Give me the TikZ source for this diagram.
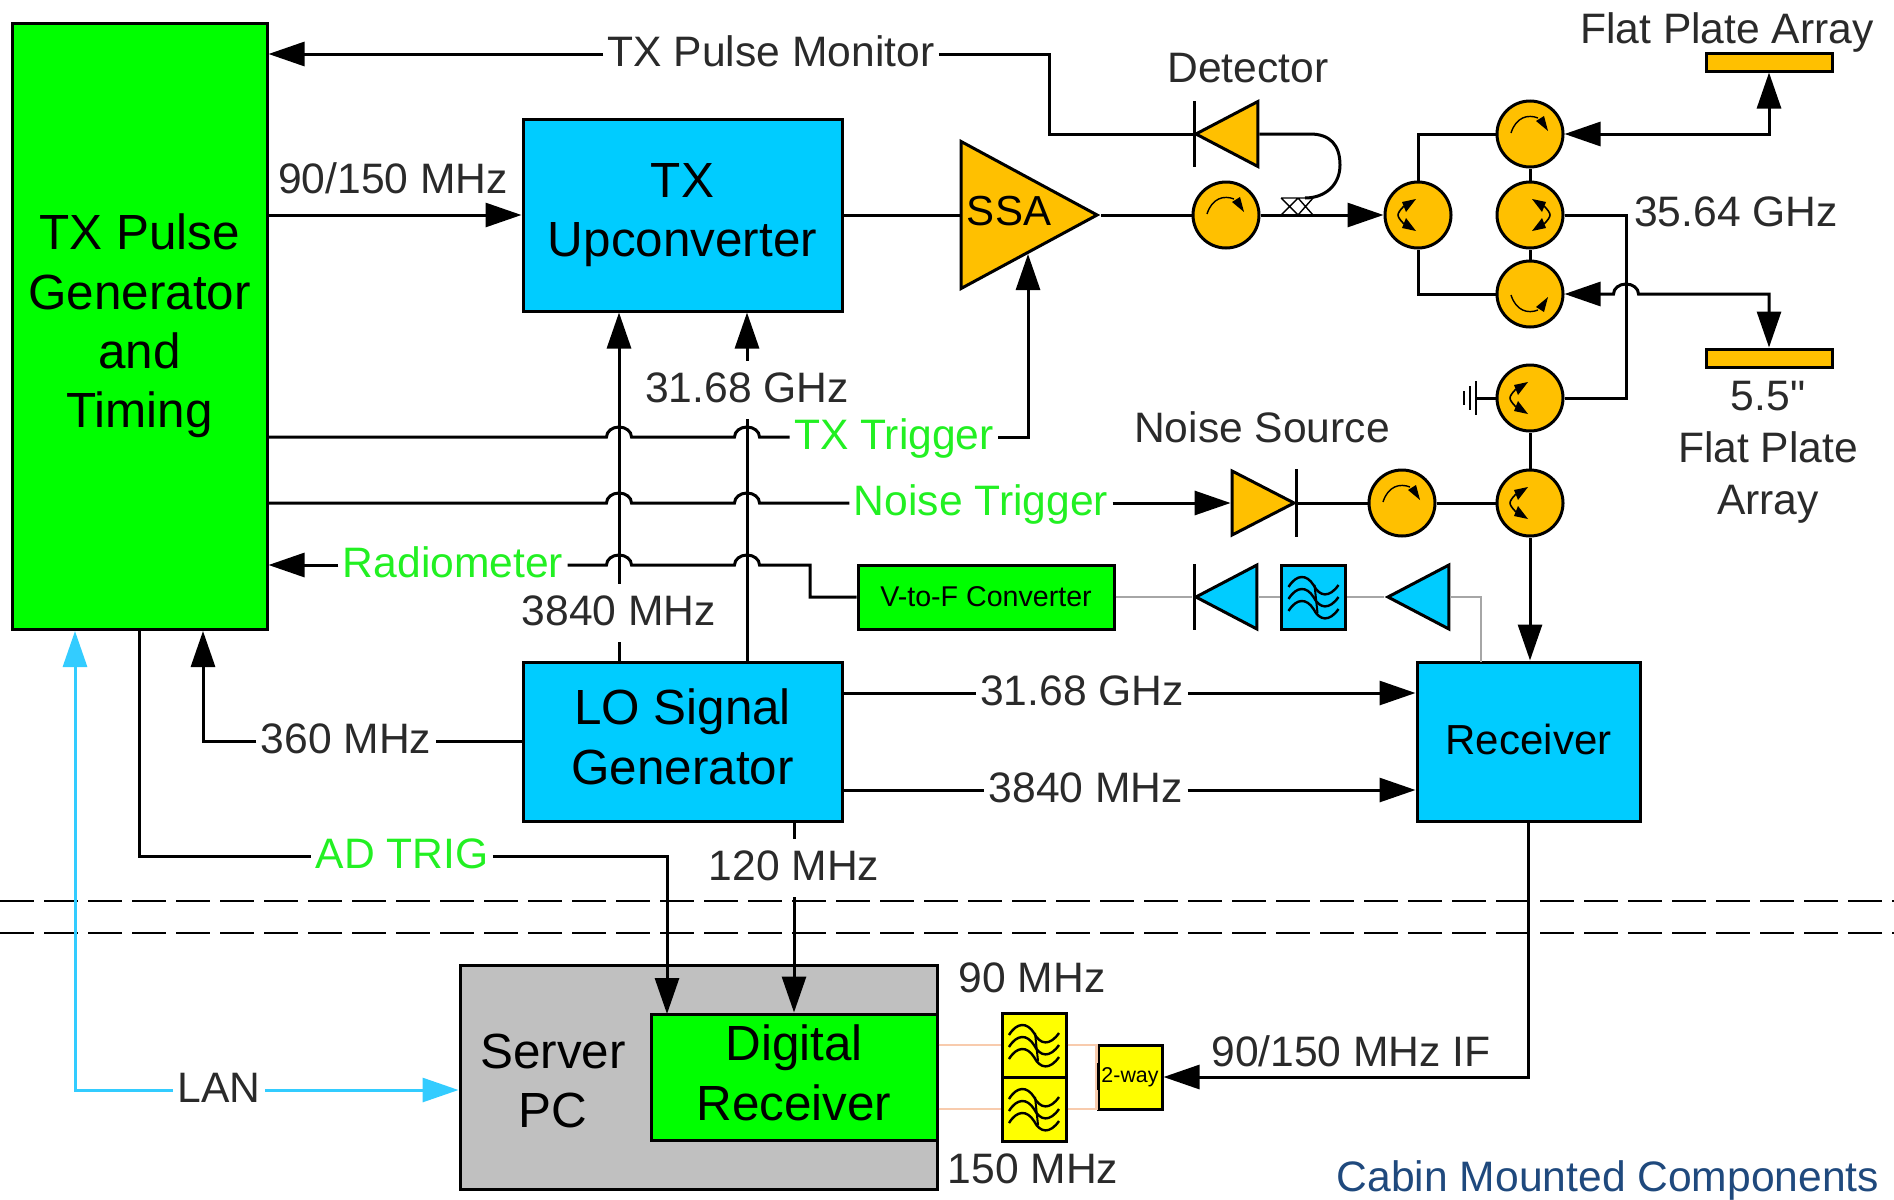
\documentclass[tikz,border=0pt]{standalone}
\usepackage{fontspec}
\setmainfont{Liberation Sans}
\newfontfamily\plainfont{Liberation Sans}
\usetikzlibrary{arrows.meta,calc,shapes.geometric}
\definecolor{boxgreen}{HTML}{00FF00}
\definecolor{boxblue}{HTML}{00CCFF}
\definecolor{amber}{HTML}{FFC000}
\definecolor{boxyellow}{HTML}{FFFF00}
\definecolor{boxgray}{HTML}{C0C0C0}
\definecolor{peach}{HTML}{F8CBAD}
\definecolor{lancyan}{HTML}{33CCFF}
\definecolor{trigreen}{HTML}{22F022}
\definecolor{labgray}{HTML}{2A2A2A}
\definecolor{cabinblue}{HTML}{1F497D}
\definecolor{vfgray}{HTML}{A6A6A6}
\newcommand{\hopx}[2]{-- (#1-12.5,#2) arc[start angle=180,end angle=360,x radius=12.5,y radius=10]}
\begin{document}
\begin{tikzpicture}[x=0.5pt,y=-0.5pt,>={Triangle[length=18pt,width=12pt]},line width=1.5pt,
    box/.style={draw,inner sep=0pt,align=center,font=\fontsize{24.7}{29.7}\selectfont},
    boxtext/.style={align=center,inner sep=0pt,font=\fontsize{24.7}{29.7}\selectfont},
    lab/.style={text=labgray,inner xsep=1.5pt,inner ysep=5pt,text height=15.3pt,text depth=2.5pt,font=\fontsize{21.3}{25}\selectfont},
    trig/.style={lab,text=trigreen},
    circ/.style={draw,circle,fill=amber,minimum size=33pt,inner sep=0pt},
    filt/.style={draw,fill=#1,minimum size=32pt,inner sep=0pt},
    plate/.style={draw,fill=amber,minimum width=63pt,minimum height=9pt,inner sep=0pt},
    tri/.style={draw,fill=#1,isosceles triangle,isosceles triangle stretches,inner sep=0pt},
    circarc/.pic={\draw[line width=.7pt] (-19,-1) .. controls (-14,-17) and (-2,-20) .. (8,-16);
      \fill (18,-3) -- (6,-13) -- (14,-18) -- cycle;},
    splitarc/.pic={\draw[line width=.8pt] (-14,-9) .. controls (-18,-5) and (-20,-2) .. (-20,0) .. controls (-20,2) and (-18,5) .. (-14,9);
      \fill (-2,-16) -- (-16,-13) -- (-12,-3) -- cycle;
      \fill (-2,16) -- (-16,13) -- (-12,3) -- cycle;},
    wavearc/.pic={\foreach \wy in {-12,0,12} \draw[line width=1.2pt] (-25,\wy+2) .. controls (-17,\wy-11) and (-7,\wy-11) .. (0,\wy) .. controls (6,\wy+12) and (16,\wy+13) .. (25,\wy);
      \draw[line width=1pt] (1,-12) -- (4,16);},
    crossarc/.pic={\draw[line width=.7pt] (-16,-17) -- (16,-17) (-16,-17) -- (1,0) (1,-17) -- (-16,0) (1,-17) -- (16,0) (1,0) -- (16,-17);}]
  \useasboundingbox (0,0) rectangle (1894,1199);

  \draw[dash pattern=on 17pt off 5pt,line width=.8pt] (0,901) -- (1894,901);
  \draw[dash pattern=on 17pt off 5pt,line width=.8pt] (0,933) -- (1894,933);

  \node[box,fill=boxgreen,minimum width=127.5pt,minimum height=303pt] (pulse) at (139.5,326) {TX Pulse\\Generator\\and\\Timing};
  \node[box,fill=boxblue,minimum width=159.5pt,minimum height=96pt] (upconv) at (682.5,215) {TX\\Upconverter};
  \node[box,fill=boxblue,minimum width=159.5pt,minimum height=79.5pt] (lo) at (682.5,741.5) {};
  \node[boxtext] (lolab) at (682.5,737) {LO Signal\\Generator};
  \node[box,fill=boxblue,minimum width=111.5pt,minimum height=79.5pt,font=\fontsize{21}{25}\selectfont] (receiver) at (1528.5,741.5) {};
  \node[inner sep=0pt,font=\fontsize{21}{25}\selectfont] (rxlab) at (1528.5,739) {Receiver};
  \node[box,fill=boxgray,minimum width=238.5pt,minimum height=112pt] (server) at (698.5,1077) {};
  \node[box,fill=boxgreen,minimum width=143pt,minimum height=63pt] (digrx) at (794,1077) {};
  \node[boxtext] (digrxlab) at (794,1073) {Digital\\Receiver};
  \node[boxtext] (serverlab) at (553,1081) {Server\\PC};
  \node[box,fill=boxgreen,minimum width=128pt,minimum height=32pt,font=\fontsize{14.3}{16}\selectfont] (vtof) at (986,597) {V-to-F Converter};

  \node[tri=amber,shape border rotate=0,minimum width=73.5pt,minimum height=68pt,anchor=apex] (ssa) at (1101,215) {};
  \node[inner sep=0pt,font=\fontsize{21}{25}\selectfont] (ssalab) at (1009,211) {SSA};
  \node[tri=amber,shape border rotate=180,minimum width=32.5pt,minimum height=31pt,anchor=apex] (det) at (1192,134) {};
  \node[tri=amber,shape border rotate=0,minimum width=32pt,minimum height=31pt,anchor=apex] (noised) at (1298,503) {};
  \node[tri=boxblue,shape border rotate=180,minimum width=32pt,minimum height=30.5pt,anchor=apex] (vdet) at (1192,597) {};
  \node[tri=boxblue,shape border rotate=180,minimum width=32pt,minimum height=30.5pt,anchor=apex] (vamp) at (1384,597) {};

  \node[circ] (cc) at (1226,215) {};
  \node[circ] (spl) at (1418,215) {};
  \node[circ] (cu) at (1530,134) {};
  \node[circ] (cm) at (1530,215) {};
  \node[circ] (cl) at (1530,294) {};
  \node[circ] (cg) at (1530,398) {};
  \node[circ] (clow) at (1530,503) {};
  \node[circ] (cn) at (1402,503) {};
  \pic at (cc) {circarc};
  \pic at (cu) {circarc};
  \pic at (cn) {circarc};
  \pic[yscale=-1] at (cl) {circarc};
  \pic at (spl) {splitarc};
  \pic[xscale=-1] at (cm) {splitarc};
  \pic at (cg) {splitarc};
  \pic at (clow) {splitarc};

  \node[plate] (uplate) at (1769,62) {};
  \node[plate] (lplate) at (1769,358) {};
  \node[filt=boxblue] (vfilt) at (1313.5,597) {};
  \node[filt=boxyellow] (f90) at (1034,1045) {};
  \node[filt=boxyellow] (f150) at (1034,1109) {};
  \pic at (vfilt) {wavearc};
  \pic at (f90) {wavearc};
  \pic at (f150) {wavearc};
  \node[draw,fill=boxyellow,minimum size=32pt,inner sep=0pt,font=\fontsize{10.7}{12}\selectfont] (twoway) at (1130,1077) {2-way};

  \node[lab] (pulsemon) at (771,54) {TX Pulse Monitor};
  \node[lab] (lab90150) at (393,181) {90/150 MHz};
  \node[lab] (lab3168) at (747,390) {31.68 GHz};
  \node[trig] (txtrig) at (894,437) {TX Trigger};
  \node[trig] (noisetrig) at (981,503) {Noise Trigger};
  \node[trig] (radiom) at (453,565) {Radiometer};
  \node[lab] (lab3840) at (619,613) {3840 MHz};
  \node[lab] (lab360) at (346,741) {360 MHz};
  \node[lab] (rf3168) at (1082,693) {31.68 GHz};
  \node[lab] (rf3840) at (1086,790) {3840 MHz};
  \node[trig] (adtrig) at (402,856) {AD TRIG};
  \node[lab] (lab120) at (794,868) {120 MHz};
  \node[lab] (lablan) at (219,1090) {LAN};
  \node[lab] (lab90) at (1032,980) {90 MHz};
  \node[lab] (lab150) at (1033,1171) {150 MHz};
  \node[lab] (labif) at (1351,1054) {90/150 MHz IF};
  \node[lab] (labdet) at (1248,70) {Detector};
  \node[lab] (labnoise) at (1262,430) {Noise Source};
  \node[lab] (labfpa) at (1727,31) {Flat Plate Array};
  \node[lab] (lab3564) at (1736,214) {35.64 GHz};
  \node[text=labgray,align=center,inner sep=0pt,font=\fontsize{21.3}{26}\selectfont] (labarray) at (1768,452) {{\plainfont 5.5"}\\Flat Plate\\Array};
  \node[lab,text=cabinblue,inner ysep=0pt] (labcabin) at (1608,1179) {Cabin Mounted Components};

  \coordinate (monbend) at (1049,100);
  \coordinate (detin) at (1194,134);
  \coordinate (ssain) at (1028,254);
  \coordinate (radbend) at (810,597);
  \coordinate (rxin) at (1481,662);
  \coordinate (rb) at (1626,300);
  \coordinate (gnd) at (1476,398);
  \coordinate (coup) at (1297,215);
  \coordinate (coupin) at (1305,198);
  \coordinate (lantip) at (75,631);
  \coordinate (clkin) at (203,631);
  \coordinate (adin) at (667,1014);

  \draw[->] (pulsemon.west) -- (pulse.east |- pulsemon.west);
  \draw (pulsemon.east) -| (monbend) |- (detin);
  \draw[->] (pulse.east |- upconv.west) -- (upconv.west);
  \draw (upconv.east) -- (ssa.lower side);
  \draw (ssa.apex) -- (cc);
  \draw[->] (cc) -- (spl);
  \draw (det.lower side) -- (1310,134) .. controls (1330,134) and (1340,145) .. (1340,165) .. controls (1340,185) and (1325,198) .. (coupin);
  \pic at (coup) {crossarc};
  \draw ($(det.apex)+(2,-33)$) -- ++(0,66);

  \draw (pulse.east |- txtrig) \hopx{619}{437} \hopx{747}{437} -- (txtrig.west);
  \draw[->] (txtrig.east) -| (ssain);
  \draw (pulse.east |- noisetrig) \hopx{619}{503} \hopx{747}{503} -- (noisetrig.west);
  \draw[->] (noisetrig.east) -- (noised.lower side);
  \draw ($(noised.apex)+(-2,-34)$) -- ++(0,68);
  \draw (noised.apex) -- (cn);
  \draw (cn) -- (clow);
  \draw[->] (radiom.west) -- (pulse.east |- radiom.west);
  \draw (radiom.east) \hopx{619}{565} \hopx{747}{565} -| (radbend) -- (vtof.west);

  \draw (lo.north -| lab3840) -- (lab3840.south);
  \draw[->] (lab3840.north) -- (upconv.south -| lab3840);
  \draw (lo.north -| lab3168) -- (lab3168.south);
  \draw[->] (lab3168.north) -- (upconv.south -| lab3168);

  \draw (spl) |- (cu);
  \draw (spl) |- (cl);
  \draw (cu) -- (cm) -- (cl);
  \draw (cm) -| (rb) |- (cg);
  \draw (cg) -- (clow);
  \draw (cg) -- (gnd);
  \draw[line width=1pt] (1476,381) -- (1476,415) (1470,386) -- (1470,410) (1464,391) -- (1464,405);
  \draw[<->] (cu.east) -| (uplate.south);
  \draw[<->] (cl.east) \hopx{1626}{294} -| (lplate.north);
  \draw[->] (clow) -- (receiver.north -| clow);

  \draw[vfgray,line width=1.2pt] (vtof.east) -- (vdet.apex);
  \draw[vfgray,line width=1.2pt] (vdet.lower side) -- (vfilt.west);
  \draw[vfgray,line width=1.2pt] (vfilt.east) -- (vamp.apex);
  \draw[vfgray,line width=1.2pt] (vamp.lower side) -| (rxin);
  \draw ($(vdet.apex)+(2,-33)$) -- ++(0,66);

  \draw (lo.east |- rf3168) -- (rf3168.west);
  \draw[->] (rf3168.east) -- (receiver.west |- rf3168);
  \draw (lo.east |- rf3840) -- (rf3840.west);
  \draw[->] (rf3840.east) -- (receiver.west |- rf3840);
  \draw (lo.west |- lab360) -- (lab360.east);
  \draw[->] (lab360.west) -| (clkin);
  \draw (pulse.south) |- (adtrig.west);
  \draw[->] (adtrig.east) -| (adin);
  \draw (lo.south -| lab120) -- (lab120.north);
  \draw[->] (lab120.south) -- (digrx.north -| lab120);

  \draw[->,lancyan] (lablan.west) -| (lantip);
  \draw[->,lancyan] (lablan.east) -- (server.west |- lablan);

  \draw[peach,line width=1.2pt] (digrx.east |- f90) -- (f90.west);
  \draw[peach,line width=1.2pt] (digrx.east |- f150) -- (f150.west);
  \draw[peach,line width=1.2pt] (f90.east) -| (twoway.west);
  \draw[peach,line width=1.2pt] (f150.east) -| (twoway.west);
  \draw[line width=1.5pt] (1098,1063) -- (1098,1090);
  \draw[->] (receiver.south) |- (twoway.east);
\end{tikzpicture}
\end{document}
